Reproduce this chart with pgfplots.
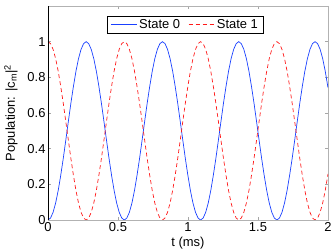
\documentclass[border=0pt]{standalone}
\usepackage{fontspec}
\setmainfont{Liberation Sans}
\usepackage{pgfplots}
\pgfplotsset{compat=1.18}
\usepackage{pgfplotstable}
\pgfplotstableread{
t a b
0 0 1
0.0182 0.011 0.989
0.0363 0.043 0.957
0.0545 0.095 0.905
0.0727 0.165 0.835
0.0908 0.25 0.75
0.109 0.345 0.655
0.1272 0.448 0.552
0.1453 0.552 0.448
0.1635 0.655 0.345
0.1817 0.75 0.25
0.1998 0.835 0.165
0.218 0.905 0.095
0.2362 0.957 0.043
0.2543 0.989 0.011
0.2725 1 0
0.2907 0.989 0.011
0.3088 0.957 0.043
0.327 0.905 0.095
0.3452 0.835 0.165
0.3633 0.75 0.25
0.3815 0.655 0.345
0.3997 0.552 0.448
0.4178 0.448 0.552
0.436 0.345 0.655
0.4542 0.25 0.75
0.4723 0.165 0.835
0.4905 0.095 0.905
0.5087 0.043 0.957
0.5268 0.011 0.989
0.545 0 1
0.5632 0.011 0.989
0.5813 0.043 0.957
0.5995 0.095 0.905
0.6177 0.165 0.835
0.6358 0.25 0.75
0.654 0.345 0.655
0.6722 0.448 0.552
0.6903 0.552 0.448
0.7085 0.655 0.345
0.7267 0.75 0.25
0.7448 0.835 0.165
0.763 0.905 0.095
0.7812 0.957 0.043
0.7993 0.989 0.011
0.8175 1 0
0.8357 0.989 0.011
0.8538 0.957 0.043
0.872 0.905 0.095
0.8902 0.835 0.165
0.9083 0.75 0.25
0.9265 0.655 0.345
0.9447 0.552 0.448
0.9628 0.448 0.552
0.981 0.345 0.655
0.9992 0.25 0.75
1.0173 0.165 0.835
1.0355 0.095 0.905
1.0537 0.043 0.957
1.0718 0.011 0.989
1.09 0 1
1.1082 0.011 0.989
1.1263 0.043 0.957
1.1445 0.095 0.905
1.1627 0.165 0.835
1.1808 0.25 0.75
1.199 0.345 0.655
1.2172 0.448 0.552
1.2353 0.552 0.448
1.2535 0.655 0.345
1.2717 0.75 0.25
1.2898 0.835 0.165
1.308 0.905 0.095
1.3262 0.957 0.043
1.3443 0.989 0.011
1.3625 1 0
1.3807 0.989 0.011
1.3988 0.957 0.043
1.417 0.905 0.095
1.4352 0.835 0.165
1.4533 0.75 0.25
1.4715 0.655 0.345
1.4897 0.552 0.448
1.5078 0.448 0.552
1.526 0.345 0.655
1.5442 0.25 0.75
1.5623 0.165 0.835
1.5805 0.095 0.905
1.5987 0.043 0.957
1.6168 0.011 0.989
1.635 0 1
1.6532 0.011 0.989
1.6713 0.043 0.957
1.6895 0.095 0.905
1.7077 0.165 0.835
1.7258 0.25 0.75
1.744 0.345 0.655
1.7622 0.448 0.552
1.7803 0.552 0.448
1.7985 0.655 0.345
1.8167 0.75 0.25
1.8348 0.835 0.165
1.853 0.905 0.095
1.8712 0.957 0.043
1.8893 0.989 0.011
1.9075 1 0
1.9257 0.989 0.011
1.9438 0.957 0.043
1.962 0.905 0.095
1.9802 0.835 0.165
1.9983 0.75 0.25
2 0.742 0.258
}\data
\definecolor{mblue}{rgb}{0.1,0.25,1}
\definecolor{mred}{rgb}{1,0.1,0.1}
\begin{document}
\begin{tikzpicture}
\begin{axis}[name=ax, scale only axis, width=280bp, height=214bp,
  xmin=0, xmax=2, ymin=0, ymax=1.2,
  xtick={0,0.5,1,1.5,2}, ytick={0,0.2,0.4,0.6,0.8,1},
  xticklabels={0,0.5,1,1.5,2}, yticklabels={0,0.2,0.4,0.6,0.8,1},
  tick align=inside, major tick length=3bp,
  tick style={gray!70, line width=0.5pt},
  axis line style={gray!60, line width=0.8pt},
  xlabel={t (ms)},
  ylabel={Population: |c\textsubscript{m}|\textsuperscript{2}},
  label style={font=\fontsize{13}{15}\selectfont},
  xlabel style={yshift=1bp},
  ylabel style={yshift=3bp},
  tick label style={font=\fontsize{13}{15}\selectfont},
  xticklabel style={yshift=1bp},
  yticklabel style={xshift=1bp},
  legend style={at={(0.49,0.953)}, anchor=north, legend columns=2,
    draw=black, line width=0.5pt, font=\fontsize{13}{15}\selectfont,
    inner xsep=3bp, inner ysep=1bp,
    /tikz/every odd column/.append style={column sep=0bp},
    /tikz/every even column/.append style={column sep=6bp}},
  legend image code/.code={\draw[#1] (0bp,0bp) -- (26bp,0bp);},
]
\addplot[mblue, line width=0.7pt] table[x=t, y=a] {\data};
\addlegendentry{State 0}
\addplot[mred, line width=0.7pt, dash pattern=on 4bp off 3bp] table[x=t, y=b] {\data};
\addlegendentry{State 1}
\draw[black, line width=0.8pt] (rel axis cs:0,0) -- (rel axis cs:0,1);
\end{axis}
\pgfresetboundingbox
\path ([shift={(-48bp,-30bp)}]ax.south west) rectangle ([shift={(4bp,6bp)}]ax.north east);
\end{tikzpicture}
\end{document}
